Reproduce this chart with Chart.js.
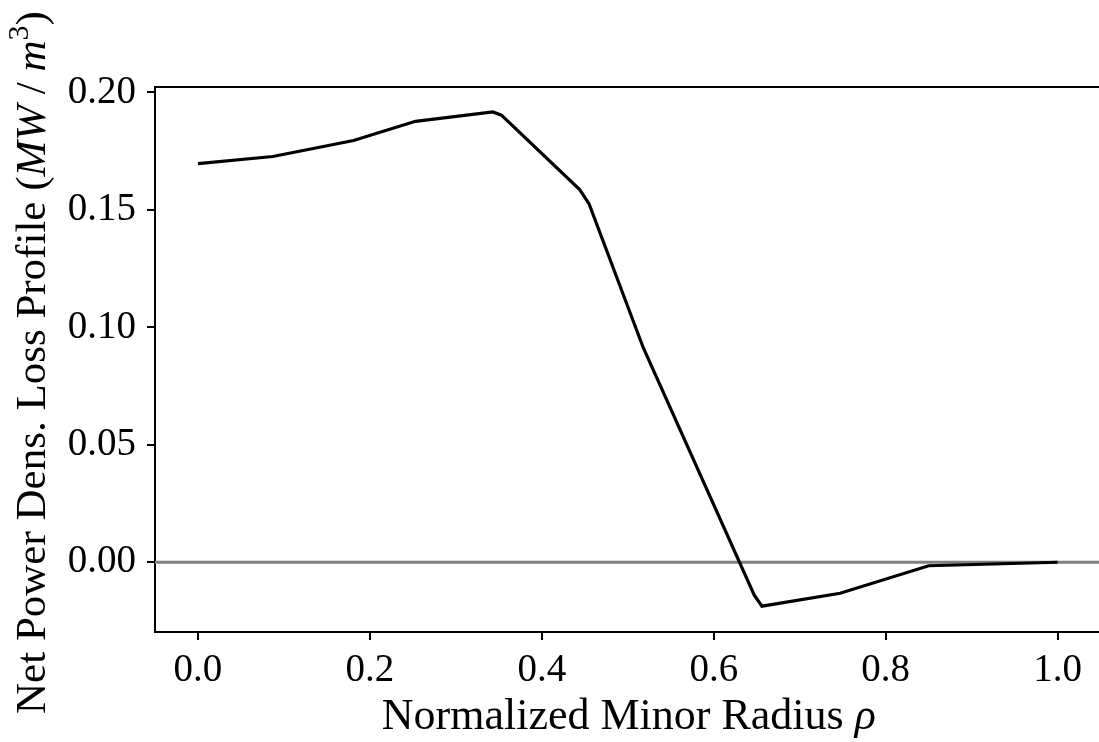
<!DOCTYPE html>
<html>
<head>
<meta charset="utf-8">
<script src="https://cdn.jsdelivr.net/npm/chart.js@4.4.1/dist/chart.umd.min.js"></script>
<style>
    html, body { margin: 0; padding: 0; background: #fff; overflow: hidden; }
    #wrap { width: 1110px; height: 742px; position: relative; }
</style>
</head>
<body>
<div id="wrap"><canvas id="chartProfile"></canvas></div>
<script>
// =====================================
// DATA
// =====================================

const rho = [0.0, 0.087, 0.181, 0.253, 0.343, 0.353, 0.444, 0.455, 0.518, 0.647, 0.656, 0.747, 0.850, 1.0];
const powerLoss = [0.1697, 0.1727, 0.1795, 0.1877, 0.1917, 0.1903, 0.1586, 0.1525, 0.0913, -0.0139, -0.0187, -0.0132, -0.0015, 0.0];

const xTicks = [0.0, 0.2, 0.4, 0.6, 0.8, 1.0];
const yTicks = [0.00, 0.05, 0.10, 0.15, 0.20];

const xMin = -0.05, xMax = 1.05;
const yMin = -0.0297, yMax = 0.2023;

const SERIF = "'Liberation Serif', 'DejaVu Serif', serif";

// =====================================
// FRAME + AXIS LABELS
// =====================================

const framePlugin = {
    id: "frame",
    afterDraw(chart) {
        const { ctx, chartArea: a } = chart;
        ctx.save();

        // top spine (right spine falls outside the picture)
        ctx.strokeStyle = "#000";
        ctx.lineWidth = 2;
        ctx.beginPath();
        ctx.moveTo(a.left, a.top);
        ctx.lineTo(a.right, a.top);
        ctx.stroke();

        ctx.fillStyle = "#000";
        ctx.textBaseline = "alphabetic";

        // x label
        drawParts(ctx, [
            { t: "Normalized Minor Radius ", f: `44px ${SERIF}` },
            { t: "ρ", f: `italic 44px ${SERIF}` }
        ], (a.left + a.right) / 2 + 1, 729);

        // y label
        ctx.translate(45, (a.top + a.bottom) / 2 + 3);
        ctx.rotate(-Math.PI / 2);
        drawParts(ctx, [
            { t: "Net Power Dens. Loss Profile (", f: `43px ${SERIF}` },
            { t: "MW", f: `italic 43px ${SERIF}` },
            { t: " / ", f: `43px ${SERIF}` },
            { t: "m", f: `italic 43px ${SERIF}` },
            { t: "3", f: `30px ${SERIF}`, dy: -17 },
            { t: ")", f: `43px ${SERIF}` }
        ], 0, 0);

        ctx.restore();
    }
};

function drawParts(ctx, parts, cx, y) {
    let total = 0;
    parts.forEach(p => {
        ctx.font = p.f;
        p.w = ctx.measureText(p.t).width;
        total += p.w;
    });
    let x = cx - total / 2;
    ctx.textAlign = "left";
    parts.forEach(p => {
        ctx.font = p.f;
        ctx.fillText(p.t, x, y + (p.dy || 0));
        x += p.w;
    });
}

// =====================================
// CHART
// =====================================

new Chart(document.getElementById("chartProfile"), {
    type: "line",
    data: {
        datasets: [
            {
                data: rho.map((r, i) => ({ x: r, y: powerLoss[i] })),
                borderColor: "#000",
                borderWidth: 3.2,
                pointRadius: 0
            },
            {
                data: [{ x: xMin, y: 0 }, { x: xMax, y: 0 }],
                borderColor: "#808080",
                borderWidth: 3,
                pointRadius: 0
            }
        ]
    },
    options: {
        responsive: true,
        maintainAspectRatio: false,
        animation: false,
        layout: { padding: { left: 0, top: 87, right: 9.4, bottom: 0 } },
        plugins: {
            legend: { display: false },
            tooltip: { enabled: false }
        },
        scales: {
            x: {
                type: "linear",
                min: xMin,
                max: xMax,
                afterBuildTicks: s => { s.ticks = xTicks.map(v => ({ value: v })); },
                afterFit: s => { s.height = 110; },
                grid: { drawOnChartArea: false, tickLength: 8, color: "#000", lineWidth: 2 },
                border: { display: true, color: "#000", width: 2 },
                ticks: {
                    color: "#000",
                    padding: 7,
                    maxRotation: 0,
                    font: { family: SERIF, size: 39 },
                    callback: v => v.toFixed(1)
                }
            },
            y: {
                type: "linear",
                min: yMin,
                max: yMax,
                afterBuildTicks: s => { s.ticks = yTicks.map(v => ({ value: v })); },
                afterFit: s => { s.width = 155; },
                grid: { drawOnChartArea: false, tickLength: 8, color: "#000", lineWidth: 2 },
                border: { display: true, color: "#000", width: 2 },
                ticks: {
                    color: "#000",
                    padding: 11,
                    font: { family: SERIF, size: 39 },
                    callback: v => v.toFixed(2)
                }
            }
        }
    },
    plugins: [framePlugin]
});
</script>
</body>
</html>
